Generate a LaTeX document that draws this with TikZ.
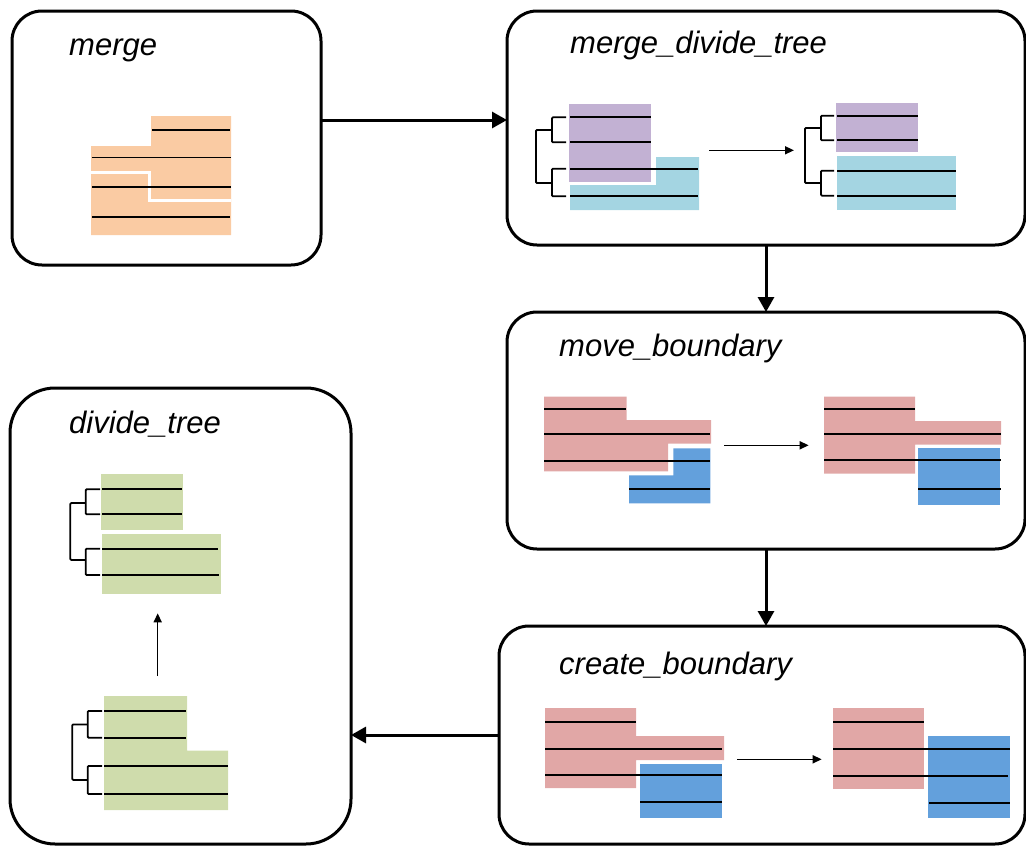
\documentclass[tikz,border=0pt]{standalone}
\usepackage{fontspec}
\setmainfont{Liberation Sans}
\usepackage{tikz}
\usetikzlibrary{arrows.meta}
\usetikzlibrary{positioning}

\definecolor{mergefill}{RGB}{250,203,163}
\definecolor{leftfill}{RGB}{194,177,211}
\definecolor{rightfill}{RGB}{164,213,226}
\definecolor{ownfill}{RGB}{225,167,166}
\definecolor{otherfill}{RGB}{99,160,220}
\definecolor{treefill}{RGB}{207,220,172}

\tikzset{
	stage/.style={draw,line width=3pt,rounded corners=30pt,inner sep=0pt,outer sep=0pt},
	stagetitle/.style={anchor=base west,inner sep=0pt,font=\itshape\fontsize{31}{36}\selectfont},
	flow/.style={line width=3pt,-{Triangle[length=15pt,width=16pt]}},
	substep/.style={line width=1.5pt,-{Triangle[length=9pt,width=8pt]}},
	row/.style={line width=1.8pt},
	gap/.style={white,line width=2.5pt},
	brace/.style={line width=1.8pt,rounded corners=1pt}
}

\begin{document}
\begin{tikzpicture}[x=1pt,y=-1pt]
	\useasboundingbox (0,0) rectangle (1026,846);

	% stages
	\node[stage,minimum width=309pt,minimum height=254pt] (merge) at (166.5,138) {};
	\node[stage,minimum width=518pt,minimum height=234pt] (mdt) at (766,128) {};
	\node[stage,minimum width=518pt,minimum height=237pt] (move) at (766,430.5) {};
	\node[stage,minimum width=526pt,minimum height=218pt] (create) at (762,735) {};
	\node[stage,rounded corners=45pt,minimum width=341pt,minimum height=456pt] (divide) at (180.5,616) {};

	% stage names
	\node[stagetitle] (mergename) at (69,55) {merge};
	\node[stagetitle] (mdtname) at (570,53) {merge\_divide\_tree};
	\node[stagetitle] (movename) at (559,356) {move\_boundary};
	\node[stagetitle] (createname) at (559,674) {create\_boundary};
	\node[stagetitle] (dividename) at (69,433) {divide\_tree};

	% flow between stages
	\draw[flow] (merge.east |- 0,120) -- (mdt.west |- 0,120);
	\draw[flow] (mdt.south) -- (mdt.south |- move.north);
	\draw[flow] (move.south) -- (move.south |- create.north);
	\draw[flow] (create.west) -- (create.west -| divide.east);

	% merge
	\fill[mergefill] (151,116) -- (231,116) -- (231,235) -- (91,235) -- (91,146) -- (151,146) -- cycle;
	\draw[gap] (91,172.5) -- (149.5,172.5) -- (149.5,200.5) -- (231,200.5);
	\draw[row] (152,130) -- (230,130);
	\draw[row] (92,157.5) -- (231,157.5);
	\draw[row] (92,187) -- (231,187);
	\draw[row] (92,217) -- (230,217);

	% merge_divide_tree, before
	\fill[rightfill] (656,157) -- (699,157) -- (699,210) -- (570,210) -- (570,185) -- (656,185) -- cycle;
	\fill[leftfill] (569,104) rectangle (651,182);
	\draw[row] (570,117.3) -- (651,117.3);
	\draw[row] (570,142.3) -- (651,142.3);
	\draw[row] (570,168.7) -- (698,168.7);
	\draw[row] (570,196.3) -- (698,196.3);
	\draw[brace] (566,117.3) -- (552,117.3) -- (552,142.3) -- (566,142.3);
	\draw[brace] (566,168.7) -- (552,168.7) -- (552,196.3) -- (566,196.3);
	\draw[brace] (552,130) -- (536,130) -- (536,183) -- (552,183);

	% merge_divide_tree, after
	\fill[leftfill] (836,103) rectangle (918,152);
	\fill[rightfill] (837,156) rectangle (956,210);
	\draw[row] (837,115.7) -- (918,115.7);
	\draw[row] (837,140.3) -- (918,140.3);
	\draw[row] (837,170.7) -- (956,170.7);
	\draw[row] (837,195.7) -- (956,195.7);
	\draw[brace] (834,115.7) -- (821,115.7) -- (821,140.3) -- (834,140.3);
	\draw[brace] (834,170.7) -- (821,170.7) -- (821,195.7) -- (834,195.7);
	\draw[brace] (821,128) -- (805,128) -- (805,183) -- (821,183);

	\coordinate (mdtfrom) at (709,150.3);
	\coordinate (mdtto) at (794,150.3);
	\draw[substep] (mdtfrom) -- (mdtto);

	% move_boundary, before
	\fill[ownfill] (544,396.7) -- (626.7,396.7) -- (626.7,420) -- (711,420) -- (711,443.7) -- (668,443.7) -- (668,471.3) -- (544,471.3) -- cycle;
	\fill[otherfill] (673.3,448.3) -- (710.3,448.3) -- (710.3,503.3) -- (629,503.3) -- (629,475.3) -- (673.3,475.3) -- cycle;
	\draw[row] (544,409.3) -- (626,409.3);
	\draw[row] (544,434) -- (710,434);
	\draw[row] (544,460.7) -- (710,460.7);
	\draw[row] (629,489) -- (710,489);

	% move_boundary, after
	\fill[ownfill] (824,396.7) -- (915,396.7) -- (915,421) -- (1001,421) -- (1001,444.7) -- (915,444.7) -- (915,473.7) -- (824,473.7) -- cycle;
	\fill[otherfill] (918,448) rectangle (1000,505);
	\draw[row] (824,409.3) -- (915,409.3);
	\draw[row] (824,434) -- (1001,434);
	\draw[row] (824,460) -- (1001,460);
	\draw[row] (918,489) -- (1001,489);

	\coordinate (movefrom) at (724.3,445.3);
	\coordinate (moveto) at (808.7,445.3);
	\draw[substep] (movefrom) -- (moveto);

	% create_boundary, before
	\fill[ownfill] (545,708) -- (636,708) -- (636,736) -- (724,736) -- (724,760) -- (636,760) -- (636,788) -- (545,788) -- cycle;
	\fill[otherfill] (640,764) rectangle (722,818);
	\draw[row] (545,722) -- (636,722);
	\draw[row] (545,748.7) -- (722,748.7);
	\draw[row] (545,775.3) -- (722,775.3);
	\draw[row] (640,801.7) -- (722,801.7);

	% create_boundary, after
	\fill[ownfill] (833,708) rectangle (924,788.7);
	\fill[otherfill] (928,736) rectangle (1010,818);
	\draw[row] (833,722) -- (924,722);
	\draw[row] (833,749.3) -- (1010,749.3);
	\draw[row] (833,776) -- (1008,776);
	\draw[row] (929,803.3) -- (1010,803.3);

	\coordinate (createfrom) at (737.3,759.3);
	\coordinate (createto) at (821.7,759.3);
	\draw[substep] (createfrom) -- (createto);

	% divide_tree, after
	\fill[treefill] (101,474) rectangle (183,529.7);
	\fill[treefill] (102,534) rectangle (221,593.7);
	\draw[row] (102,489.3) -- (182,489.3);
	\draw[row] (102,514.3) -- (182,514.3);
	\draw[row] (102,548.7) -- (218,548.7);
	\draw[row] (102,575) -- (219,575);
	\draw[brace] (100,489.3) -- (85.7,489.3) -- (85.7,514.3) -- (100,514.3);
	\draw[brace] (100,548.7) -- (85.7,548.7) -- (85.7,575) -- (100,575);
	\draw[brace] (85.7,503) -- (70.3,503) -- (70.3,560) -- (85.7,560);

	% divide_tree, before
	\fill[treefill] (104,696) -- (187,696) -- (187,750.7) -- (228,750.7) -- (228,810) -- (104,810) -- cycle;
	\draw[row] (104,711) -- (186,711);
	\draw[row] (104,737.7) -- (186,737.7);
	\draw[row] (104,766) -- (228,766);
	\draw[row] (104,794) -- (228,794);
	\draw[brace] (102,711) -- (87.7,711) -- (87.7,737.7) -- (102,737.7);
	\draw[brace] (102,766) -- (87.7,766) -- (87.7,794) -- (102,794);
	\draw[brace] (87.7,724.4) -- (72.3,724.4) -- (72.3,780) -- (87.7,780);

	\coordinate (dividefrom) at (157.7,676);
	\coordinate (divideto) at (157.7,613.3);
	\draw[substep] (dividefrom) -- (divideto);
\end{tikzpicture}
\end{document}
